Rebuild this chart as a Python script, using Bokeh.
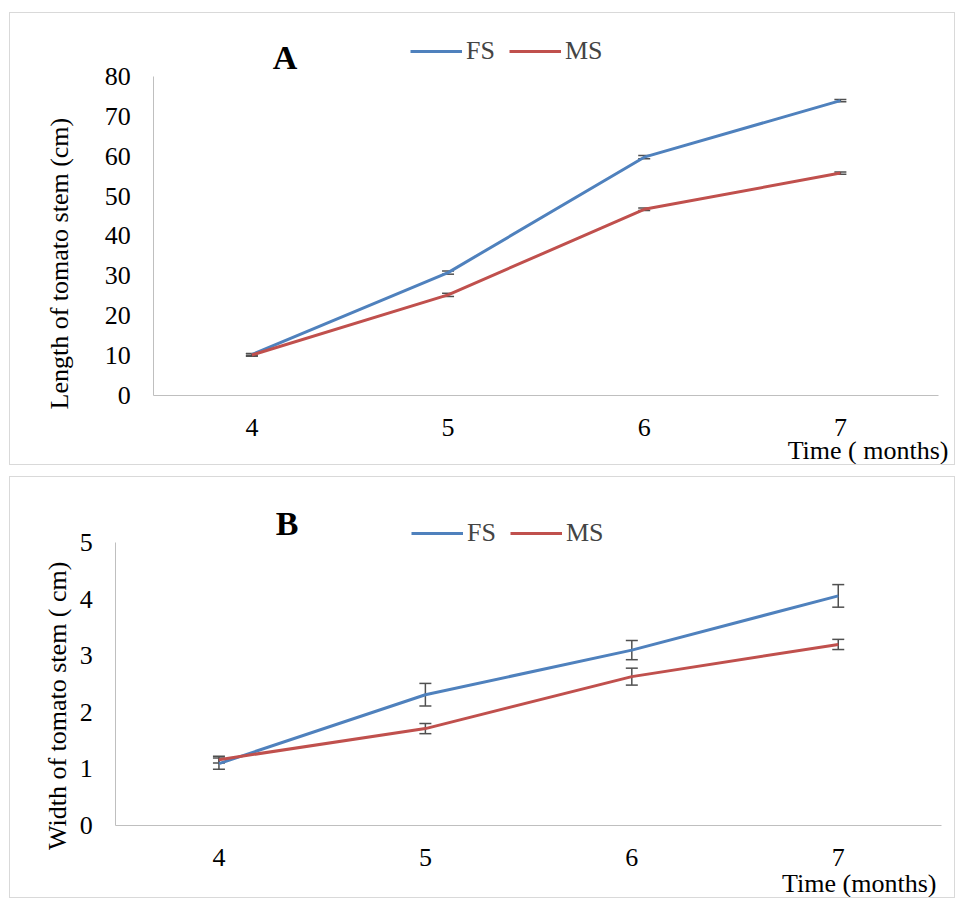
import math
from bokeh.plotting import figure
from bokeh.layouts import column
from bokeh.models import (Range1d, Label, Legend, LegendItem, Whisker,
                          ColumnDataSource, FixedTicker, TeeHead)
from bokeh.embed import file_html
from bokeh.resources import INLINE

# ---------------- data ----------------
months = [4, 5, 6, 7]
fs_length = [10.2, 30.8, 59.8, 74.0]
ms_length = [10.1, 25.2, 46.7, 55.8]
fs_length_err = [0.3, 0.4, 0.4, 0.3]
ms_length_err = [0.3, 0.4, 0.3, 0.3]

fs_width = [1.09, 2.31, 3.10, 4.06]
ms_width = [1.16, 1.71, 2.63, 3.20]
fs_width_err = [0.10, 0.20, 0.17, 0.20]
ms_width_err = [0.06, 0.09, 0.15, 0.09]

y_ticks_a = [0, 10, 20, 30, 40, 50, 60, 70, 80]
y_ticks_b = [0, 1, 2, 3, 4, 5]
series_names = ["FS", "MS"]

# ---------------- style ----------------
FONT = "Liberation Serif"
BLUE = "#4f81bd"
RED = "#c0504d"
AXIS = "#bfbfbf"
ERR = "#505050"
BORDER = "#d9d9d9"


def make_panel(letter, fs, ms, fs_err, ms_err, y_max, y_ticks, ytitle, xtitle,
               W, H, origin, axis_px, letter_px, ytitle_px, xtitle_px,
               legend_px, margin):
    # origin: page position of the canvas top-left
    # axis_px: (x_left_px, x_right_px, y_top_px, y_bottom_px) page pixels of
    #          the plotting box (x 3.5..7.5, y 0..y_max)
    ox, oy = origin
    cw, ch = W - 2, H - 2
    xl, xr, yt, yb = axis_px
    kx = 4.0 / (xr - xl)
    ky = y_max / (yb - yt)

    def dx(px):
        return 3.5 + (px - xl) * kx

    def dy(py):
        return (yb - py) * ky

    p = figure(width=W, height=H, output_backend="svg", toolbar_location=None,
               x_range=Range1d(dx(ox), dx(ox + cw)),
               y_range=Range1d(dy(oy + ch), dy(oy)),
               min_border=0, min_border_left=0, min_border_right=0,
               min_border_top=0, min_border_bottom=0,
               margin=margin, styles={"border": "1px solid " + BORDER})
    p.outline_line_color = None
    p.grid.grid_line_color = None
    p.background_fill_color = "white"
    p.border_fill_color = "white"

    for ax in (p.xaxis[0], p.yaxis[0]):
        ax.axis_line_color = AXIS
        ax.axis_line_width = 1
        ax.major_tick_line_color = None
        ax.minor_tick_line_color = None
        ax.major_label_text_font = FONT
        ax.major_label_text_font_size = "26px"
        ax.major_label_text_color = "black"
    p.xaxis[0].fixed_location = 0
    p.xaxis[0].bounds = (3.5, 7.5)
    p.xaxis[0].major_label_standoff = 18
    p.yaxis[0].fixed_location = 3.5
    p.yaxis[0].bounds = (0, y_max)
    p.yaxis[0].major_label_standoff = 17
    p.xaxis.ticker = FixedTicker(ticks=months)
    p.yaxis.ticker = FixedTicker(ticks=y_ticks)

    src = ColumnDataSource(dict(
        x=months, fs=fs, ms=ms,
        fs_lo=[v - e for v, e in zip(fs, fs_err)],
        fs_hi=[v + e for v, e in zip(fs, fs_err)],
        ms_lo=[v - e for v, e in zip(ms, ms_err)],
        ms_hi=[v + e for v, e in zip(ms, ms_err)],
    ))
    r_fs = p.line("x", "fs", source=src, line_color=BLUE, line_width=3)
    r_ms = p.line("x", "ms", source=src, line_color=RED, line_width=3)

    for lo, hi in (("fs_lo", "fs_hi"), ("ms_lo", "ms_hi")):
        w = Whisker(base="x", lower=lo, upper=hi, source=src,
                    line_color=ERR, line_width=1.5,
                    upper_head=TeeHead(size=12, line_color=ERR, line_width=1.5),
                    lower_head=TeeHead(size=12, line_color=ERR, line_width=1.5))
        p.add_layout(w)

    lx, ly_bottom = legend_px
    legend = Legend(items=[LegendItem(label=series_names[0], renderers=[r_fs]),
                           LegendItem(label=series_names[1], renderers=[r_ms])],
                    orientation="horizontal",
                    location=(lx - ox, oy + ch - ly_bottom),
                    background_fill_alpha=0, border_line_alpha=0,
                    label_text_font=FONT, label_text_font_size="26px",
                    glyph_width=52, glyph_height=30, label_height=30,
                    label_standoff=4, spacing=14, padding=0, margin=0)
    p.add_layout(legend)

    p.add_layout(Label(x=dx(letter_px[0]), y=dy(letter_px[1]), text=letter,
                       text_font=FONT, text_font_size="34px",
                       text_font_style="bold", text_align="center",
                       text_baseline="middle", text_color="black"))
    p.add_layout(Label(x=dx(ytitle_px[0]), y=dy(ytitle_px[1]), text=ytitle,
                       text_font=FONT, text_font_size="26px",
                       angle=math.pi / 2, text_align="center",
                       text_baseline="middle", text_color="black"))
    p.add_layout(Label(x=dx(xtitle_px[0]), y=dy(xtitle_px[1]), text=xtitle,
                       text_font=FONT, text_font_size="26px",
                       text_align="right", text_baseline="middle",
                       text_color="black"))
    return p


pA = make_panel("A", fs_length, ms_length, fs_length_err, ms_length_err,
                80, y_ticks_a, "Length of tomato stem (cm)", "Time ( months)",
                W=946, H=453, origin=(11, 14), axis_px=(154, 937, 77, 394),
                letter_px=(285, 58), ytitle_px=(60, 263), xtitle_px=(947, 449),
                legend_px=(411, 65), margin=(12, 0, 0, 9))

pB = make_panel("B", fs_width, ms_width, fs_width_err, ms_width_err,
                5, y_ticks_b, "Width of  tomato stem ( cm)", "Time (months)",
                W=946, H=422, origin=(11, 478), axis_px=(116, 940, 543, 824),
                letter_px=(287, 524), ytitle_px=(58, 702), xtitle_px=(935, 882),
                legend_px=(412, 547), margin=(11, 0, 0, 9))

layout = column(pA, pB, spacing=0)
open("out.html", "w").write(file_html(layout, INLINE))
